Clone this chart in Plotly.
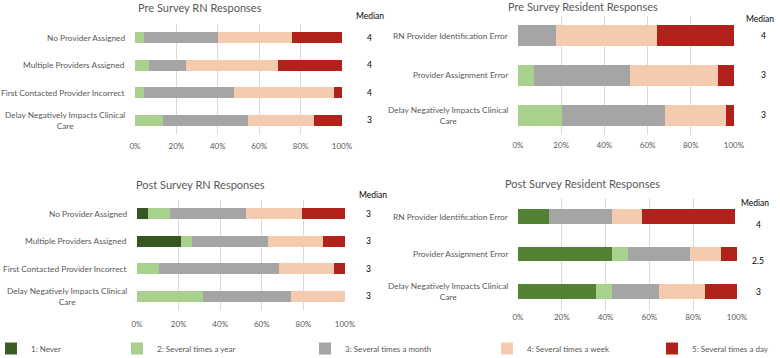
import plotly.graph_objects as go

W, H = 780, 358

series_names = ["1: Never", "2: Several times a year", "3: Several times a month",
                "4: Several times a week", "5: Several times a day"]
colors = ["#3B5E27", "#A9D18E", "#A5A5A5", "#F4CBAE", "#B0221B"]

# Pre Survey RN
pre_rn_cats = ["No Provider Assigned", "Multiple Providers Assigned",
               "First Contacted Provider Incorrect", "Delay Negatively Impacts Clinical<br>Care"]
pre_rn_vals = [
    [0, 0, 0, 0],
    [4.4, 6.8, 4.4, 13.5],
    [35.6, 17.6, 43.3, 41.3],
    [35.8, 44.8, 48.3, 31.7],
    [24.2, 30.8, 4.0, 13.5],
]
pre_rn_median = ["4", "4", "4", "3"]

# Pre Survey Resident
pre_res_cats = ["RN Provider Identification Error", "Provider Assignment Error",
                "Delay Negatively Impacts Clinical<br>Care"]
pre_res_vals = [
    [0, 0, 0],
    [0, 7.6, 20.2],
    [17.8, 44.2, 47.8],
    [46.7, 40.9, 28.1],
    [35.5, 7.3, 3.9],
]
pre_res_median = ["4", "3", "3"]

# Post Survey RN
post_rn_cats = pre_rn_cats
post_rn_vals = [
    [5.3, 21.1, 0, 0],
    [10.4, 5.5, 10.6, 31.7],
    [36.8, 36.6, 57.9, 42.2],
    [26.7, 26.4, 26.4, 26.1],
    [20.8, 10.4, 5.1, 0],
]
post_rn_median = ["3", "3", "3", "3"]

# Post Survey Resident
post_res_cats = pre_res_cats
post_res_vals = [
    [14.2, 42.9, 35.7],
    [0, 7.1, 7.1],
    [28.5, 28.6, 21.4],
    [14.0, 14.3, 21.4],
    [42.4, 7.1, 14.3],
]
post_res_median = ["4", "2.5", "3"]

tick_vals = [0, 20, 40, 60, 80, 100]
tick_text = ["0%", "20%", "40%", "60%", "80%", "100%"]

FONT = "Lato"
GREY_TXT = "#595959"

panels = [
    dict(title="Pre Survey RN Responses", cats=pre_rn_cats, vals=pre_rn_vals, med=pre_rn_median,
         x0=135, x1=342, yt=24, yb=134, bw=0.40, tx=200, ty=8, mx=370, my=16, vx=369,
         green=colors[0], med_dy=[0, 0, 0, 0], stand=6),
    dict(title="Pre Survey Resident Responses", cats=pre_res_cats, vals=pre_res_vals, med=pre_res_median,
         x0=518, x1=734, yt=16, yb=135, bw=0.53, tx=583, ty=7, mx=760, my=19, vx=763,
         green=colors[0], med_dy=[0, 0, 0], stand=4),
    dict(title="Post Survey RN Responses", cats=post_rn_cats, vals=post_rn_vals, med=post_rn_median,
         x0=137, x1=345, yt=200, yb=310, bw=0.40, tx=201, ty=184, mx=373, my=195, vx=368,
         green="#375623", med_dy=[0, 0, 0, 0], stand=8),
    dict(title="Post Survey Resident Responses", cats=post_res_cats, vals=post_res_vals, med=post_res_median,
         x0=518, x1=737, yt=198, yb=310, bw=0.40, tx=582, ty=183, mx=755, my=203, vx=758,
         green="#548235", med_dy=[8, 7, 1], stand=1),
]

legend_px = [5, 131, 319, 501, 666]

fig = go.Figure()
annotations = []
layout_extra = {}

for i, p in enumerate(panels):
    ax = "" if i == 0 else str(i + 1)
    xa, ya = "x" + ax, "y" + ax
    ncat = len(p["cats"])
    for s in range(5):
        col = p["green"] if s == 0 else colors[s]
        fig.add_trace(go.Bar(
            y=p["cats"], x=p["vals"][s], orientation="h",
            name=series_names[s], legendgroup=series_names[s],
            legend="legend" if s == 0 else "legend" + str(s + 1),
            showlegend=(i == 0), marker=dict(color=col, line=dict(width=0)),
            width=p["bw"], xaxis=xa, yaxis=ya, hoverinfo="skip",
        ))
    layout_extra["xaxis" + ax] = dict(
        domain=[p["x0"] / W, p["x1"] / W], anchor=ya, range=[0, 100],
        tickvals=tick_vals, ticktext=tick_text, showgrid=True, gridcolor="#D9D9D9",
        gridwidth=1, zeroline=False, showline=False, ticks="",
        ticklabelstandoff=p["stand"],
        tickfont=dict(family=FONT, size=8, color=GREY_TXT), fixedrange=True,
        automargin=False,
    )
    layout_extra["yaxis" + ax] = dict(
        domain=[1 - p["yb"] / H, 1 - p["yt"] / H], anchor=xa,
        categoryorder="array", categoryarray=p["cats"],
        range=[ncat - 0.5, -0.5], autorange=False, showticklabels=False, showgrid=False,
        zeroline=False, showline=False, ticks="", fixedrange=True, automargin=False,
    )
    for c in p["cats"]:
        annotations.append(dict(
            x=(p["x0"] - 8) / W, xref="paper", y=c, yref=ya, text=c,
            xanchor="right", yanchor="middle", align="center", showarrow=False,
            font=dict(family=FONT, size=8.3, color=GREY_TXT),
        ))
    annotations.append(dict(
        x=p["tx"] / W, y=1 - p["ty"] / H, xref="paper", yref="paper", text=p["title"],
        xanchor="center", yanchor="middle", showarrow=False,
        font=dict(family=FONT, size=11, color=GREY_TXT),
    ))
    annotations.append(dict(
        x=p["mx"] / W, y=1 - p["my"] / H, xref="paper", yref="paper", text="Median",
        xanchor="center", yanchor="middle", showarrow=False,
        font=dict(family=FONT, size=8.5, color="#000000"),
    ))
    for c, m, dy in zip(p["cats"], p["med"], p["med_dy"]):
        annotations.append(dict(
            x=p["vx"] / W, xref="paper", y=c, yref=ya, text=m, yshift=-dy,
            xanchor="center", yanchor="middle", showarrow=False,
            font=dict(family=FONT, size=8.5, color="#000000"),
        ))

for s in range(5):
    key = "legend" if s == 0 else "legend" + str(s + 1)
    layout_extra[key] = dict(
        orientation="h", x=(legend_px[s] - 14) / W, xanchor="left",
        y=-5 / H, yanchor="bottom", font=dict(family=FONT, size=8, color=GREY_TXT),
        itemwidth=30, bgcolor="rgba(0,0,0,0)",
    )

fig.update_layout(
    width=W, height=H, margin=dict(l=0, r=0, t=0, b=0, autoexpand=False),
    paper_bgcolor="white", plot_bgcolor="white",
    barmode="stack", annotations=annotations,
    **layout_extra,
)

fig.write_html("out.html")
